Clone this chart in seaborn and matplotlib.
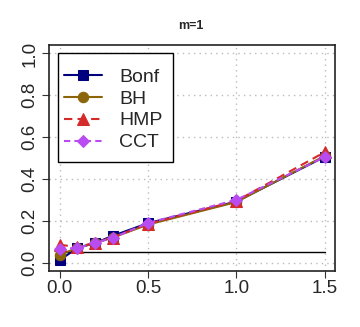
import matplotlib
matplotlib.use("Agg")
import matplotlib.pyplot as plt
from matplotlib.patches import Rectangle
import seaborn as sns
import pandas as pd
import numpy as np

x_vals = [0.0, 0.1, 0.2, 0.3, 0.5, 1.0, 1.5]
bonf = [0.012, 0.070, 0.094, 0.128, 0.189, 0.292, 0.506]
bh = [0.038, 0.070, 0.095, 0.120, 0.182, 0.290, 0.510]
hmp = [0.086, 0.075, 0.095, 0.120, 0.186, 0.295, 0.528]
cct = [0.067, 0.070, 0.095, 0.118, 0.190, 0.300, 0.505]
methods = ["Bonf", "BH", "HMP", "CCT"]
alpha_level = 0.05
title = "m=1"
xticks = [0.0, 0.5, 1.0, 1.5]
yticks = [0.0, 0.2, 0.4, 0.6, 0.8, 1.0]

sns.set_style("white")
plt.rcParams['font.family'] = ['Liberation Sans', 'DejaVu Sans']

series = {"Bonf": bonf, "BH": bh, "HMP": hmp, "CCT": cct}
df = pd.DataFrame([(m, x, v) for m in methods for x, v in zip(x_vals, series[m])],
                  columns=["method", "x", "y"])

colors = {"Bonf": "#00007f", "BH": "#8b6508", "HMP": "#d42a2a", "CCT": "#b84cf0"}
markers = {"Bonf": "s", "BH": "o", "HMP": "^", "CCT": "D"}
dashes = {"Bonf": "", "BH": "", "HMP": (4, 2.5), "CCT": (3, 2)}
msize = {"Bonf": 6.5, "BH": 7.5, "HMP": 8, "CCT": 6.5}

fig = plt.figure(figsize=(3.6, 3.27), dpi=100)
ax = fig.add_axes([0.136, 0.171, 0.795, 0.691])

ax.set_xlim(-0.06, 1.56)
ax.set_ylim(-0.04, 1.04)
ax.set_xticks(xticks)
ax.set_yticks(yticks)
ax.grid(True, linestyle=(0, (1, 3)), color="#bbbbbb", linewidth=1.0)
ax.set_axisbelow(True)

ax.plot([x_vals[0], x_vals[-1]], [alpha_level, alpha_level], color="black", linewidth=1.0)

for m in methods:
    sub = df[df.method == m]
    sns.lineplot(data=sub, x="x", y="y", ax=ax, color=colors[m], marker=markers[m],
                 markersize=msize[m], markeredgecolor=colors[m], linewidth=1.5,
                 dashes=False, label=m, linestyle="-" if dashes[m] == "" else (0, dashes[m]))

ax.set_xlabel("")
ax.set_ylabel("")
ax.set_xticklabels(["0.0", "0.5", "1.0", "1.5"], fontsize=13.5)
ax.set_yticklabels(["0.0", "0.2", "0.4", "0.6", "0.8", "1.0"], fontsize=13.5, rotation=90, va="center")
ax.tick_params(axis="both", direction="out", length=5, width=0.8, color="#333333", left=True, bottom=True)
ax.tick_params(axis="x", pad=1.5)
ax.tick_params(axis="y", pad=2.5)
for s in ax.spines.values():
    s.set_color("#222222")
    s.set_linewidth(1.2)

# legend box drawn as a separate frame (R-style padding)
ax.add_patch(Rectangle((0.031, 0.482), 0.403, 0.483, transform=ax.transAxes,
                       facecolor="white", edgecolor="black", linewidth=1.0, zorder=4))
leg = ax.legend(loc="upper left", bbox_to_anchor=(0.025, 0.933), fontsize=14,
                frameon=False, handlelength=1.95, handletextpad=0.9,
                labelspacing=0.22, borderpad=0.4, borderaxespad=0)
leg.set_zorder(5)

fig.text(0.531, 0.92, title, fontsize=9, fontweight="bold", ha="center", va="center")

fig.savefig("out.png", dpi=100)
